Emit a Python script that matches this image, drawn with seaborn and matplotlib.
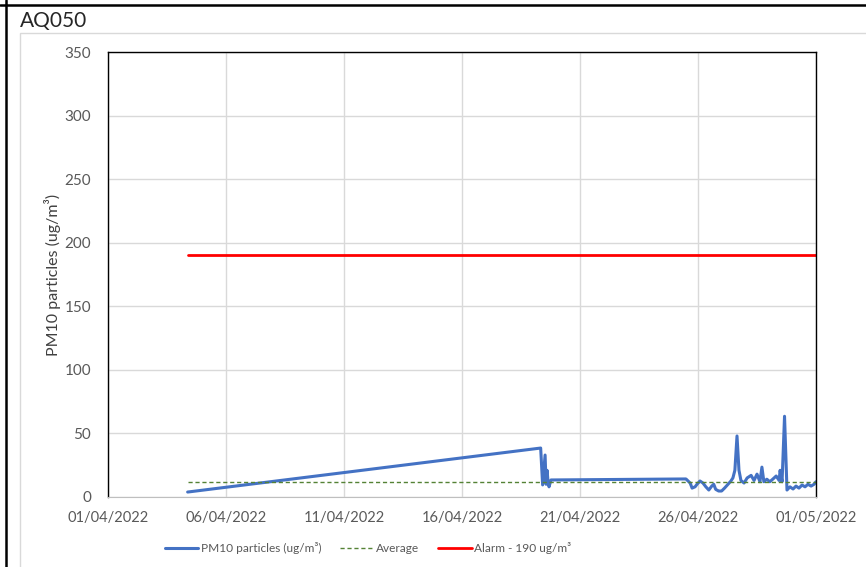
import pandas as pd
import matplotlib.pyplot as plt
import matplotlib.dates as mdates
from matplotlib.lines import Line2D
from matplotlib.patches import Rectangle
import seaborn as sns

# PM10 readings
times = [
    "2022-04-04 09:00", "2022-04-19 08:00", "2022-04-19 10:00", "2022-04-19 12:30",
    "2022-04-19 13:30", "2022-04-19 14:30", "2022-04-19 15:30", "2022-04-19 16:30",
    "2022-04-19 18:30", "2022-04-25 11:45", "2022-04-25 16:00", "2022-04-25 18:00",
    "2022-04-25 21:00", "2022-04-25 23:00", "2022-04-26 02:00", "2022-04-26 05:00",
    "2022-04-26 08:00", "2022-04-26 11:00", "2022-04-26 14:00", "2022-04-26 16:00",
    "2022-04-26 18:00", "2022-04-26 21:00", "2022-04-27 00:00", "2022-04-27 03:00",
    "2022-04-27 06:30", "2022-04-27 09:30", "2022-04-27 11:30", "2022-04-27 13:30",
    "2022-04-27 15:40", "2022-04-27 17:40", "2022-04-27 19:40", "2022-04-27 22:50",
    "2022-04-28 02:00", "2022-04-28 06:00", "2022-04-28 09:00", "2022-04-28 12:00",
    "2022-04-28 15:00", "2022-04-28 17:00", "2022-04-28 19:00", "2022-04-28 22:00",
    "2022-04-29 01:00", "2022-04-29 04:00", "2022-04-29 07:30", "2022-04-29 10:30",
    "2022-04-29 11:30", "2022-04-29 13:30", "2022-04-29 16:00", "2022-04-29 18:30",
    "2022-04-29 21:30", "2022-04-30 00:40", "2022-04-30 03:40", "2022-04-30 06:40",
    "2022-04-30 09:50", "2022-04-30 12:50", "2022-04-30 15:50", "2022-04-30 19:00",
    "2022-04-30 22:00", "2022-05-01 00:00",
]
pm10 = [
    3.9, 38.5, 9.5, 33.0,
    10.0, 21.0, 12.0, 8.0,
    13.4, 14.2, 11.0, 7.0,
    8.0, 10.0, 12.6, 11.0,
    8.0, 5.5, 8.6, 10.0,
    6.0, 4.7, 4.7, 7.0,
    10.0, 12.6, 15.0, 21.0,
    48.0, 21.0, 13.0, 11.0,
    15.0, 17.0, 13.0, 18.0,
    12.0, 23.5, 12.0, 14.0,
    12.0, 14.0, 16.5, 13.0,
    21.0, 12.0, 63.5, 5.5,
    8.0, 6.3, 8.6, 7.0,
    9.4, 8.0, 10.0, 8.6,
    10.0, 12.0,
]
average = 11.8
alarm = 190

x_ticks = ["2022-04-01", "2022-04-06", "2022-04-11", "2022-04-16",
           "2022-04-21", "2022-04-26", "2022-05-01"]
y_ticks = [0, 50, 100, 150, 200, 250, 300, 350]

df = pd.DataFrame({"time": pd.to_datetime(times), "pm10": pm10})
span = df["time"].iloc[[0, -1]]
df_avg = pd.DataFrame({"time": span, "value": [average, average]})
df_alarm = pd.DataFrame({"time": span, "value": [alarm, alarm]})

sns.set_style("white")
plt.rcParams["font.family"] = ["Lato", "DejaVu Sans"]

fig = plt.figure(figsize=(8.66, 5.67), dpi=100)
ax = fig.add_axes([108 / 866, 1 - 497 / 567, 708 / 866, 445 / 567])

sns.lineplot(data=df, x="time", y="pm10", ax=ax, color="#4472C4", linewidth=2.2,
             label="PM10 particles (ug/m³)")
sns.lineplot(data=df_avg, x="time", y="value", ax=ax, color="#548235", linewidth=1,
             linestyle=(0, (3, 2)), label="Average")
sns.lineplot(data=df_alarm, x="time", y="value", ax=ax, color="#FF0000", linewidth=2,
             label="Alarm - 190 ug/m³")

ax.set_xlim(pd.Timestamp(x_ticks[0]), pd.Timestamp(x_ticks[-1]))
ax.set_ylim(0, 350)
ax.set_xticks(pd.to_datetime(x_ticks))
ax.xaxis.set_major_formatter(mdates.DateFormatter("%d/%m/%Y"))
ax.set_yticks(y_ticks)
ax.grid(True, color="#D9D9D9", linewidth=1)
ax.set_axisbelow(True)
ax.tick_params(axis="both", length=0, colors="#595959")
ax.tick_params(axis="y", pad=12, labelsize=11)
ax.tick_params(axis="x", pad=10, labelsize=10.5)
for side in ["top", "right", "left"]:
    ax.spines[side].set_color("black")
    ax.spines[side].set_linewidth(1)
ax.spines["bottom"].set_color("#BFBFBF")
ax.set_xlabel("")
ax.set_ylabel("PM10 particles (ug/m³)", fontsize=11.5, color="#404040")
ax.yaxis.set_label_coords(-47 / 708, 0.5)

ax.legend(loc="center", bbox_to_anchor=(368 / 866, 1 - 548 / 567),
          bbox_transform=fig.transFigure, ncol=3, frameon=False, fontsize=8.6,
          labelcolor="#595959", handlelength=2.8, columnspacing=1.6, handletextpad=0.2)

# chart frame and page lines
fig.add_artist(Rectangle((20 / 866, -0.05), 0.99, 1 - 33 / 567 + 0.05,
                         transform=fig.transFigure, fill=False,
                         edgecolor="#D9D9D9", linewidth=1))
fig.add_artist(Line2D([0, 1], [1 - 4.5 / 567, 1 - 4.5 / 567],
                      transform=fig.transFigure, color="black", linewidth=1.8))
fig.add_artist(Line2D([5.5 / 866, 5.5 / 866], [0, 1],
                      transform=fig.transFigure, color="black", linewidth=1.8))
fig.text(20 / 866, 1 - 21 / 567, "AQ050", fontsize=15, va="center", ha="left")

fig.savefig("out.png", dpi=100)
